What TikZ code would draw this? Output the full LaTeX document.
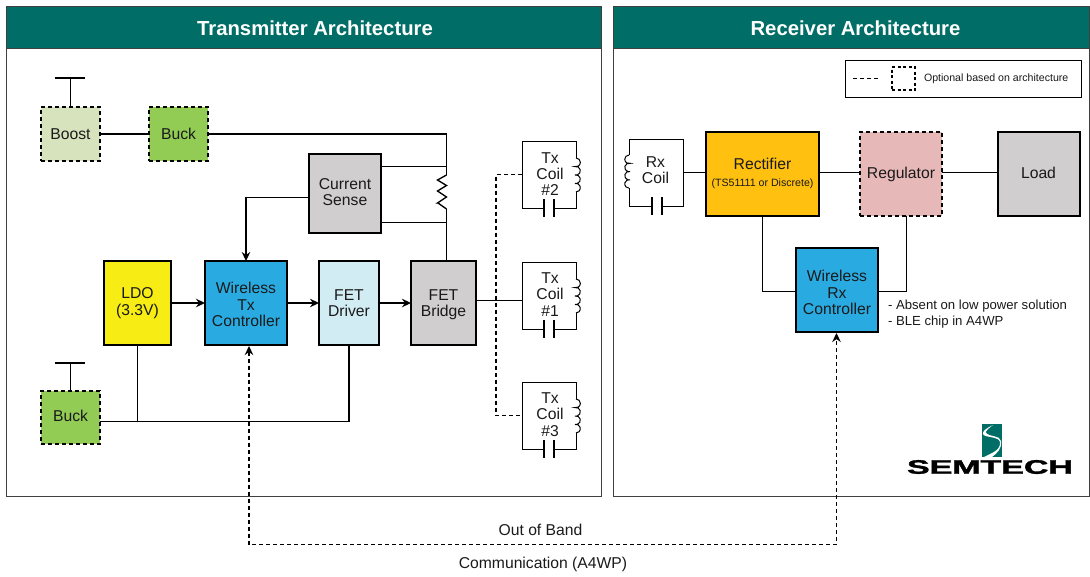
\documentclass[tikz,border=0pt]{standalone}
\usepackage{fontspec}
\setmainfont[BoldFeatures={}]{Liberation Sans}
\newfontfamily\logofont[BoldFeatures={FakeBold=1.5}]{Liberation Sans}
\usetikzlibrary{arrows.meta}
\definecolor{hdr}{HTML}{006E66}
\definecolor{cgreen}{HTML}{92CC55}
\definecolor{cboost}{HTML}{D7E3BC}
\definecolor{ccyan}{HTML}{D2ECF3}
\definecolor{cblue}{HTML}{29ABE2}
\definecolor{cyellow}{HTML}{F7EC13}
\definecolor{cgrey}{HTML}{D0CECE}
\definecolor{corange}{HTML}{FFC010}
\definecolor{cpink}{HTML}{E6B8B7}
\definecolor{txt}{HTML}{1A1A1A}
\tikzset{
  every node/.style={outer sep=0pt},
  panel/.style={draw=black!75,line width=1pt,fill=white},
  header/.style={draw=black!75,line width=1pt,fill=hdr},
  headtext/.style={inner sep=0pt,text=white,font=\fontsize{20.3}{24}\selectfont\bfseries},
  blockbox/.style={draw=black,line width=1.2pt,anchor=north west,align=center,inner sep=0pt,text=txt,font=\fontsize{15.7}{16.4}\selectfont},
  optbox/.style={blockbox,dash pattern=on 4pt off 3pt},
  coilbox/.style={draw=black,line width=1pt,anchor=north west,inner sep=0pt,fill=white,minimum width=54pt,minimum height=67pt},
  wire/.style={draw=black,line width=1.35pt},
  arrowwire/.style={wire,-{Stealth[length=9pt,width=8.5pt]}},
  dashwire/.style={draw=black,line width=1.2pt,dash pattern=on 4pt off 3pt},
  label/.style={inner sep=0pt,text=txt,align=center,font=\fontsize{15.7}{16.4}\selectfont},
}
\newcommand{\capsym}[2]{%
  \draw[white,line width=2pt] (#1-4.5,#2) -- (#1+4.5,#2);
  \draw[black,line width=1.1pt] (#1-5,#2-9) -- (#1-5,#2+9) (#1+5,#2-9) -- (#1+5,#2+9);}
\newcommand{\indR}[2]{%
  \draw[white,line width=2pt] (#1,#2) -- (#1,#2+34);
  \draw[black,line width=1pt] (#1,#2) arc[start angle=-90,end angle=105,radius=4.36]
    arc[start angle=-105,end angle=105,radius=4.36]
    arc[start angle=-105,end angle=105,radius=4.36]
    arc[start angle=-105,end angle=90,radius=4.36];}
\newcommand{\indL}[2]{%
  \draw[white,line width=2pt] (#1,#2) -- (#1,#2+33);
  \draw[black,line width=1pt] (#1,#2) arc[start angle=-90,end angle=-285,radius=4.25]
    arc[start angle=-75,end angle=-285,radius=4.25]
    arc[start angle=-75,end angle=-285,radius=4.25]
    arc[start angle=-75,end angle=-270,radius=4.25];}
\begin{document}
\begin{tikzpicture}[x=1pt,y=-1pt]
\useasboundingbox (0,0) rectangle (1090,576);
% panels
\node[panel,anchor=north west,minimum width=595pt,minimum height=490pt] (txpanel) at (6.5,6.5) {};
\node[header,anchor=north west,minimum width=595pt,minimum height=42pt,inner sep=0pt] (txhead) at (6.5,6.5) {};
\node[headtext] (txtitle) at (315,28) {Transmitter Architecture};
\node[panel,anchor=north west,minimum width=476pt,minimum height=490pt] (rxpanel) at (613,6.5) {};
\node[header,anchor=north west,minimum width=476pt,minimum height=42pt,inner sep=0pt] (rxhead) at (613,6.5) {};
\node[headtext] (rxtitle) at (855.5,28) {Receiver Architecture};
% legend
\node[draw=black,line width=1pt,anchor=north west,minimum width=236pt,minimum height=37pt,inner sep=0pt] (legend) at (845,60) {};
\coordinate (lega) at (853,78.5); \coordinate (legb) at (880,78.5);
\draw[dashwire] (lega) -- (legb);
\node[draw=black,line width=1.1pt,dash pattern=on 3pt off 2.5pt,anchor=north west,minimum width=23pt,minimum height=23pt,inner sep=0pt] (legbox) at (892,67) {};
\node[inner sep=0pt,anchor=west,text=txt,font=\fontsize{10.6}{12}\selectfont] (legtext) at (924,78.5) {Optional based on architecture};
% transmitter blocks
\node[optbox,fill=cboost,minimum width=59pt,minimum height=54pt] (boost) at (41,107) {};
\node[label] (boostt) at (70.5,134) {Boost};
\node[optbox,fill=cgreen,minimum width=59pt,minimum height=54pt] (buckA) at (149,107) {};
\node[label] (buckAt) at (178.5,134) {Buck};
\node[blockbox,fill=cgrey,minimum width=72pt,minimum height=79pt] (sense) at (309,154) {};
\node[label] (senset) at (345,192) {Current\\Sense};
\node[blockbox,fill=cyellow,minimum width=67pt,minimum height=84pt] (ldo) at (104,261) {LDO\\(3.3V)};
\node[blockbox,fill=cblue,minimum width=82pt,minimum height=84pt] (txctl) at (205,261) {};
\node[label] (txctlt) at (246,304.5) {Wireless\\Tx\\Controller};
\node[blockbox,fill=ccyan,minimum width=60pt,minimum height=84pt] (driver) at (319,261) {FET\\Driver};
\node[blockbox,fill=cgrey,minimum width=65pt,minimum height=84pt] (bridge) at (411,261) {};
\node[label] (bridget) at (443.5,305) {FET\\Bridge};
\node[optbox,fill=cgreen,minimum width=59pt,minimum height=53pt] (buckB) at (41,391) {};
\node[label] (buckBt) at (70.5,415.5) {Buck};
% tx coils
\node[coilbox] (coilb) at (522,141) {};
\node[label] (coilbt) at (550,174) {Tx\\Coil\\\#2};
\node[coilbox] (coila) at (522,262) {};
\node[label] (coilat) at (550,294.5) {Tx\\Coil\\\#1};
\node[coilbox] (coilc) at (522,382) {};
\node[label] (coilct) at (550,414.5) {Tx\\Coil\\\#3};
\indR{576}{158}\capsym{549}{208}
\indR{576}{279}\capsym{549}{329}
\indR{576}{399}\capsym{549}{449}
% receiver blocks
\node[coilbox,minimum height=67pt] (rxcoil) at (629,139) {};
\node[label] (rxcoilt) at (655.5,170) {Rx\\Coil};
\indL{629}{155}\capsym{657}{206}
\node[blockbox,fill=corange,minimum width=113pt,minimum height=84pt] (rect) at (706,132) {};
\node[label] (rectt) at (762.5,173.5) {Rectifier\\[0pt]{\fontsize{10.6}{12}\selectfont (TS51111 or Discrete)}};
\node[optbox,fill=cpink,minimum width=82pt,minimum height=84pt] (reg) at (860,132) {Regulator};
\node[blockbox,fill=cgrey,minimum width=82pt,minimum height=84pt] (load) at (998,132) {};
\node[label] (loadt) at (1038.5,173) {Load};
\node[blockbox,fill=cblue,minimum width=82pt,minimum height=84pt] (rxctl) at (796,248) {};
\node[label] (rxctlt) at (837,292.5) {Wireless\\Rx\\Controller};
% tx wiring
\coordinate (boostT) at (70.5,78); \coordinate (boostTa) at (55,78); \coordinate (boostTb) at (85,78);
\coordinate (buckT) at (70.5,363); \coordinate (buckTa) at (55,363); \coordinate (buckTb) at (85,363);
\draw[wire] (boost.north) -- (boostT) (boostTa) -- (boostTb);
\draw[wire] (buckB.north) -- (buckT) (buckTa) -- (buckTb);
\draw[wire] (boost.east) -- (buckA.west);
\coordinate (rtop) at (446.5,175); \coordinate (rbot) at (446.5,209);
\draw[wire] (buckA.east) -| (rtop);
\draw[wire] (rtop) -- ++(-9,5) -- ++(9,5.5) -- ++(-9,5.5) -- ++(9,6) -- ++(-9,6) -- ++(0.5,0) -- (rbot);
\draw[wire] (rbot) -- (bridge.north -| rbot);
\draw[wire] (sense.east |- 0,166.5) -- (446.5,166.5);
\draw[wire] (sense.east |- 0,222.5) -- (446.5,222.5);
\draw[arrowwire] (sense.west |- 0,197.5) -| (txctl.north);
\draw[arrowwire] (ldo.east) -- (txctl.west);
\draw[arrowwire] (txctl.east) -- (driver.west);
\draw[arrowwire] (driver.east) -- (bridge.west);
\draw[wire] (bridge.east |- 0,300.5) -- (coila.west |- 0,300.5);
\draw[wire] (buckB.east |- 0,421.5) -| (driver.south);
\draw[wire] (137.5,345) -- (137.5,421.5);
\coordinate (dashtop) at (496,174.5); \coordinate (dashbot) at (496,415.5);
\draw[dashwire] (coilb.west |- dashtop) -- (dashtop) -- (dashbot) -- (coilc.west |- dashbot);
% rx wiring
\draw[wire] (rxcoil.east |- 0,172.5) -- (rect.west |- 0,172.5);
\draw[wire] (rect.east |- 0,172.5) -- (reg.west |- 0,172.5);
\draw[wire] (reg.east |- 0,172.5) -- (load.west |- 0,172.5);
\draw[wire] (762.5,216) |- (rxctl.west |- 0,291.5);
\draw[wire] (906.5,216) |- (rxctl.east |- 0,291.5);
% out of band
\coordinate (oobL) at (249,544.5); \coordinate (oobR) at (836.5,544.5);
\draw[dashwire,{Stealth[length=9pt,width=8.5pt]}-{Stealth[length=9pt,width=8.5pt]}] (249,346) -- (oobL) -- (oobR) -- (836.5,333);
% labels
\node[label,font=\fontsize{13.15}{16}\selectfont,anchor=west] (noteA) at (888,306) {- Absent on low power solution};
\node[label,font=\fontsize{13.15}{16}\selectfont,anchor=west] (noteB) at (888,322) {- BLE chip in A4WP};
\node[label] (ooblabel) at (540.5,529.5) {Out of Band};
\node[label] (commlabel) at (543,564) {Communication (A4WP)};
% logo
\node[fill=hdr,anchor=north west,minimum width=20pt,minimum height=33pt,inner sep=0pt] (logomark) at (982,424) {};
\fill[white] (993,425) .. controls (987,428) and (982,431) .. (983,434)
  .. controls (984,438) and (999,436) .. (1000,442)
  .. controls (1001,450) and (992,453) .. (984,457)
  -- (992,457) .. controls (997,453) and (1002,449) .. (1001,441)
  .. controls (1000,435) and (989,437) .. (986,433)
  .. controls (985,431) and (989,428) .. (993,425) -- cycle;
\node[inner sep=0pt,xscale=1.74,transform shape,text=black,font=\fontsize{19.5}{20}\logofont\bfseries] (logotext) at (990,467) {SEMTECH};
\end{tikzpicture}
\end{document}
